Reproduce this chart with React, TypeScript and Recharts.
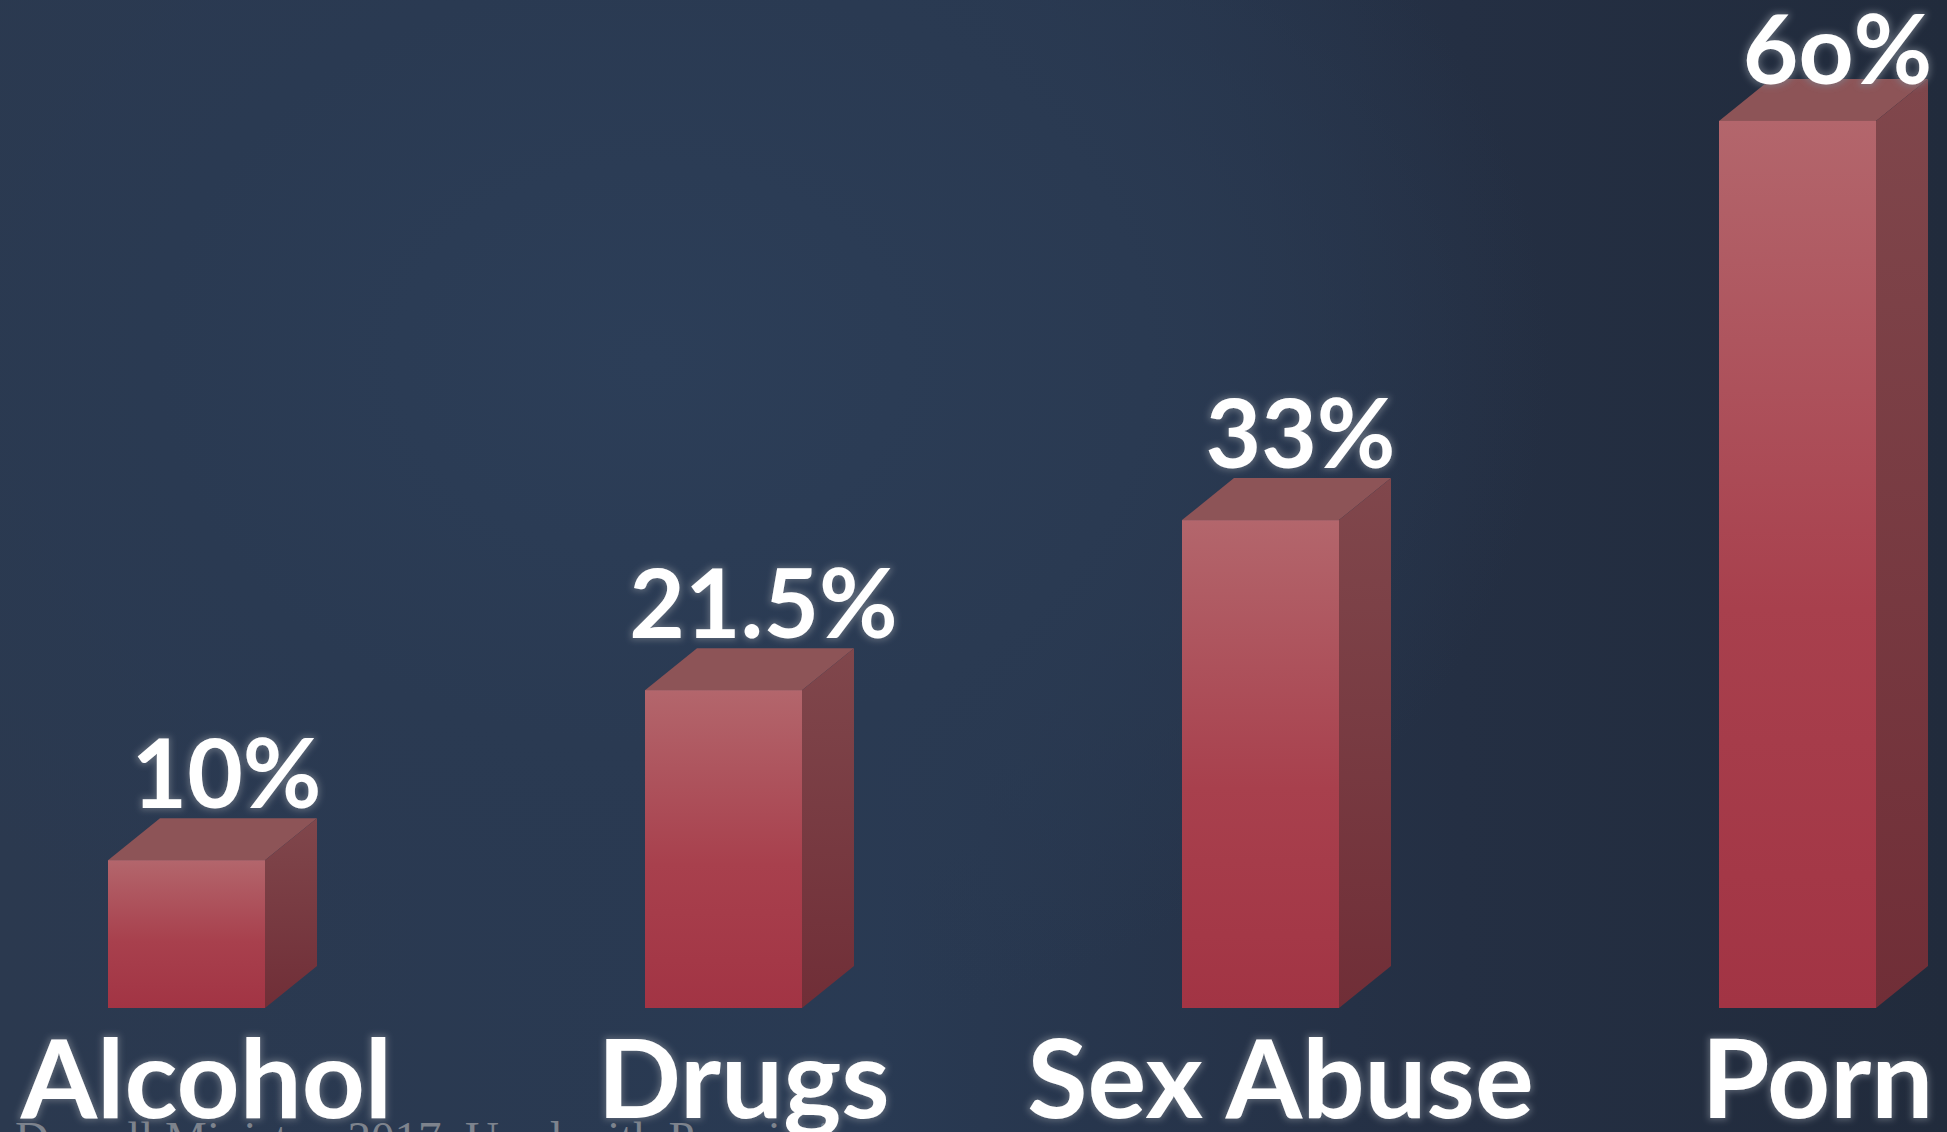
import { Bar, BarChart, LabelList, XAxis, YAxis } from 'recharts';

const categories = ['Alcohol', 'Drugs', 'Sex Abuse', 'Porn'];
const percents = [10, 21.5, 33, 60];
const valueLabels = ['10%', '21.5%', '33%', '6o%'];

const data = categories.map((name, i) => ({
  name,
  value: percents[i],
  label: valueLabels[i],
}));

const DX = 52;
const DY = 42;
const FONT = 'Lato, "Open Sans", sans-serif';

function Bar3D(props: any) {
  const { x, y, width, height } = props;
  if (height <= 0) return null;
  const top = `${x},${y} ${x + DX},${y - DY} ${x + width + DX},${y - DY} ${x + width},${y}`;
  const side = `${x + width},${y} ${x + width + DX},${y - DY} ${x + width + DX},${y + height - DY} ${x + width},${y + height}`;
  return (
    <g>
      <polygon points={top} fill="#8d5457" />
      <polygon points={side} fill="url(#sideGrad)" />
      <rect x={x} y={y} width={width} height={height} fill="url(#frontGrad)" />
    </g>
  );
}

function ValueLabel(props: any) {
  const { x, y, width, index } = props;
  const cx = x + width / 2 + DX / 2 + 14;
  const baseline = Math.max(y - DY - 10, 84);
  return (
    <text
      x={cx}
      y={baseline}
      textAnchor="middle"
      fill="#ffffff"
      fontFamily={FONT}
      fontWeight={700}
      fontSize={96}
      filter="url(#glow)"
    >
      {valueLabels[index]}
    </text>
  );
}

function CategoryTick(props: any) {
  const { x, y, payload } = props;
  return (
    <text
      x={x + DX / 2 - 6}
      y={y + 110}
      textAnchor="middle"
      fill="#ffffff"
      fontFamily={FONT}
      fontWeight={700}
      fontSize={110}
      filter="url(#glow)"
    >
      {payload.value}
    </text>
  );
}

export default function App() {
  return (
    <div
      style={{
        position: 'absolute',
        left: 0,
        top: 0,
        width: 1947,
        height: 1132,
        overflow: 'hidden',
        background:
          'radial-gradient(ellipse 900px 700px at 650px 360px, #2c3e58 0%, #2a3a52 55%, rgba(38,50,70,0) 100%), linear-gradient(90deg, #2b394f 0%, #293a53 45%, #242f43 75%, #212b3c 100%)',
      }}
    >
      <div
        style={{
          position: 'absolute',
          left: 15,
          top: 1111,
          fontFamily: '"Liberation Serif", "DejaVu Serif", serif',
          fontSize: 47,
          color: '#7d838d',
          whiteSpace: 'nowrap',
        }}
      >
        Dowell Ministry, 2017. Used with Permission
      </div>
      <div style={{ position: 'absolute', left: -82, top: 0 }}>
        <BarChart
          width={2148}
          height={1132}
          data={data}
          margin={{ top: 47, right: 0, bottom: 0, left: 0 }}
        >
          <defs>
            <linearGradient id="frontGrad" x1="0" y1="0" x2="0" y2="1">
              <stop offset="0%" stopColor="#b3666c" />
              <stop offset="55%" stopColor="#a8404d" />
              <stop offset="100%" stopColor="#a23444" />
            </linearGradient>
            <linearGradient id="sideGrad" x1="0" y1="0" x2="0" y2="1">
              <stop offset="0%" stopColor="#80474c" />
              <stop offset="100%" stopColor="#702e37" />
            </linearGradient>
            <filter id="glow" x="-20%" y="-20%" width="140%" height="140%">
              <feMorphology in="SourceAlpha" operator="dilate" radius="1.5" result="d" />
              <feGaussianBlur in="d" stdDeviation="3" result="b" />
              <feFlood floodColor="#7a828e" floodOpacity="0.6" />
              <feComposite in2="b" operator="in" result="g" />
              <feMerge>
                <feMergeNode in="g" />
                <feMergeNode in="SourceGraphic" />
              </feMerge>
            </filter>
          </defs>
          <XAxis
            dataKey="name"
            height={124}
            axisLine={false}
            tickLine={false}
            tickSize={0}
            tickMargin={0}
            interval={0}
            tick={<CategoryTick />}
          />
          <YAxis hide domain={[0, 65]} allowDataOverflow />
          <Bar dataKey="value" barSize={157} shape={<Bar3D />} isAnimationActive={false}>
            <LabelList dataKey="label" content={<ValueLabel />} />
          </Bar>
        </BarChart>
      </div>
    </div>
  );
}
